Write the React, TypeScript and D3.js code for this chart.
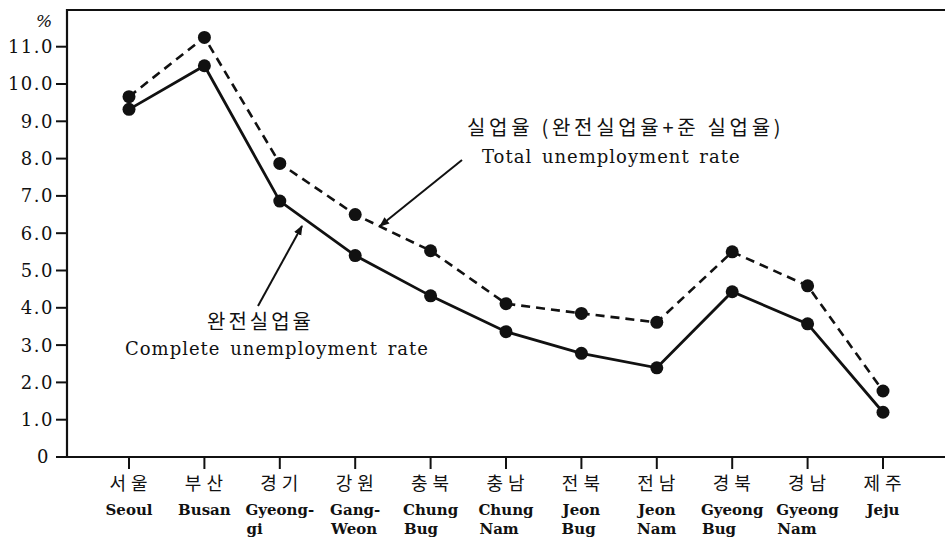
import * as d3 from "d3";
import React, { useEffect, useRef } from "react";

// regions (Korean / English lines)
const regionsKo = ["서울", "부산", "경기", "강원", "충북", "충남", "전북", "전남", "경북", "경남", "제주"];
const regionsEn = [
  ["Seoul"], ["Busan"], ["Gyeong-", "gi"], ["Gang-", "Weon"], ["Chung", "Bug"],
  ["Chung", "Nam"], ["Jeon", "Bug"], ["Jeon", "Nam"], ["Gyeong", "Bug"], ["Gyeong", "Nam"], ["Jeju"]
];

// total unemployment rate (complete + quasi), dashed
const totalRate = [9.66, 11.25, 7.87, 6.5, 5.53, 4.11, 3.85, 3.61, 5.5, 4.59, 1.77];
// complete unemployment rate, solid
const completeRate = [9.32, 10.49, 6.86, 5.4, 4.32, 3.36, 2.78, 2.39, 4.43, 3.57, 1.2];

const yTicks = [0, 1, 2, 3, 4, 5, 6, 7, 8, 9, 10, 11];
const yTickLabels = ["0", "1.0", "2.0", "3.0", "4.0", "5.0", "6.0", "7.0", "8.0", "9.0", "10.0", "11.0"];

const serif = "'DejaVu Serif', 'Liberation Serif', serif";
const kfont = "'Noto Sans CJK KR', sans-serif";

const App = () => {
  const ref = useRef<SVGSVGElement>(null);

  useEffect(() => {
    const svg = d3.select(ref.current);
    svg.selectAll("*").remove();

    const W = 945, H = 541;
    const left = 67, top = 10, bottom = 457;

    const x = d3.scalePoint().domain(regionsKo).range([129, 883]);
    const y = d3.scaleLinear().domain([0, 11]).range([bottom, 46.7]);

    svg.append("rect").attr("width", W).attr("height", H).attr("fill", "#fff");

    const defs = svg.append("defs");
    defs.append("marker")
      .attr("id", "arr")
      .attr("viewBox", "0 0 10 10")
      .attr("refX", 9).attr("refY", 5)
      .attr("markerWidth", 5).attr("markerHeight", 5)
      .attr("orient", "auto")
      .append("path").attr("d", "M0,1 L10,5 L0,9 Z").attr("fill", "#111");

    // frame: top, left, bottom
    svg.append("path")
      .attr("d", `M${W},${top} H${left} V${bottom} H${W}`)
      .attr("fill", "none").attr("stroke", "#111").attr("stroke-width", 2.2);

    // y ticks
    const yg = svg.append("g");
    yTicks.forEach((t, i) => {
      yg.append("line")
        .attr("x1", left - 11).attr("x2", left)
        .attr("y1", y(t)).attr("y2", y(t))
        .attr("stroke", "#111").attr("stroke-width", 2);
      yg.append("text")
        .attr("x", t === 0 ? 50 : 54).attr("y", y(t)).attr("dy", "0.36em")
        .attr("text-anchor", "end")
        .style("font-family", serif).style("font-size", "18px")
        .style("letter-spacing", "1.5px")
        .attr("fill", "#111")
        .text(yTickLabels[i]);
    });
    svg.append("text")
      .attr("x", 44).attr("y", 27).attr("text-anchor", "middle")
      .style("font-family", serif).style("font-size", "17px").style("font-style", "italic")
      .attr("fill", "#111").text("%");

    // x ticks + labels
    const xg = svg.append("g");
    regionsKo.forEach((r, i) => {
      const cx = x(r) as number;
      xg.append("line")
        .attr("x1", cx).attr("x2", cx).attr("y1", bottom).attr("y2", bottom + 12)
        .attr("stroke", "#111").attr("stroke-width", 2);
      xg.append("text")
        .attr("x", cx + 2).attr("y", 490).attr("text-anchor", "middle")
        .style("font-family", kfont).style("font-size", "18px").style("letter-spacing", "5px")
        .attr("fill", "#111").text(r);
      const first = xg.append("text")
        .attr("x", cx).attr("y", 515).attr("text-anchor", "middle")
        .style("font-family", serif).style("font-size", "15px").style("font-weight", "bold")
        .attr("fill", "#111").text(regionsEn[i][0]);
      if (regionsEn[i].length > 1) {
        const bx = (first.node() as SVGTextElement).getBBox().x;
        xg.append("text")
          .attr("x", bx + 1).attr("y", 534).attr("text-anchor", "start")
          .style("font-family", serif).style("font-size", "15px").style("font-weight", "bold")
          .attr("fill", "#111").text(regionsEn[i][1]);
      }
    });

    const line = d3.line<number>()
      .x((d, i) => x(regionsKo[i]) as number)
      .y((d) => y(d));

    svg.append("path")
      .attr("d", line(totalRate))
      .attr("fill", "none").attr("stroke", "#111").attr("stroke-width", 2.6)
      .attr("stroke-dasharray", "9,6");
    svg.append("path")
      .attr("d", line(completeRate))
      .attr("fill", "none").attr("stroke", "#111").attr("stroke-width", 2.8);

    [totalRate, completeRate].forEach((series) => {
      svg.append("g").selectAll("circle")
        .data(series)
        .enter()
        .append("circle")
        .attr("cx", (d, i) => x(regionsKo[i]) as number)
        .attr("cy", (d) => y(d))
        .attr("r", 6.5)
        .attr("fill", "#111");
    });

    // annotations
    svg.append("text")
      .attr("x", 467).attr("y", 135)
      .style("font-family", kfont).style("font-size", "20px").style("letter-spacing", "3.7px")
      .attr("fill", "#111").text("실업율 (완전실업율+준 실업율)");
    svg.append("text")
      .attr("x", 482).attr("y", 163)
      .style("font-family", serif).style("font-size", "18px").style("letter-spacing", "1px")
      .style("word-spacing", "3px")
      .attr("fill", "#111").text("Total unemployment rate");
    svg.append("line")
      .attr("x1", 462).attr("y1", 160).attr("x2", 380).attr("y2", 226)
      .attr("stroke", "#111").attr("stroke-width", 2)
      .attr("marker-end", "url(#arr)");

    svg.append("text")
      .attr("x", 207).attr("y", 329)
      .style("font-family", kfont).style("font-size", "20px").style("letter-spacing", "3px")
      .attr("fill", "#111").text("완전실업율");
    svg.append("text")
      .attr("x", 125).attr("y", 355)
      .style("font-family", serif).style("font-size", "18px").style("letter-spacing", "1px")
      .style("word-spacing", "3px")
      .attr("fill", "#111").text("Complete unemployment rate");
    svg.append("line")
      .attr("x1", 258).attr("y1", 306).attr("x2", 302).attr("y2", 226)
      .attr("stroke", "#111").attr("stroke-width", 2)
      .attr("marker-end", "url(#arr)");
  }, []);

  return (
    <svg
      ref={ref}
      width={945}
      height={541}
      style={{ position: "absolute", left: 0, top: 0, display: "block" }}
    />
  );
};

export default App;
